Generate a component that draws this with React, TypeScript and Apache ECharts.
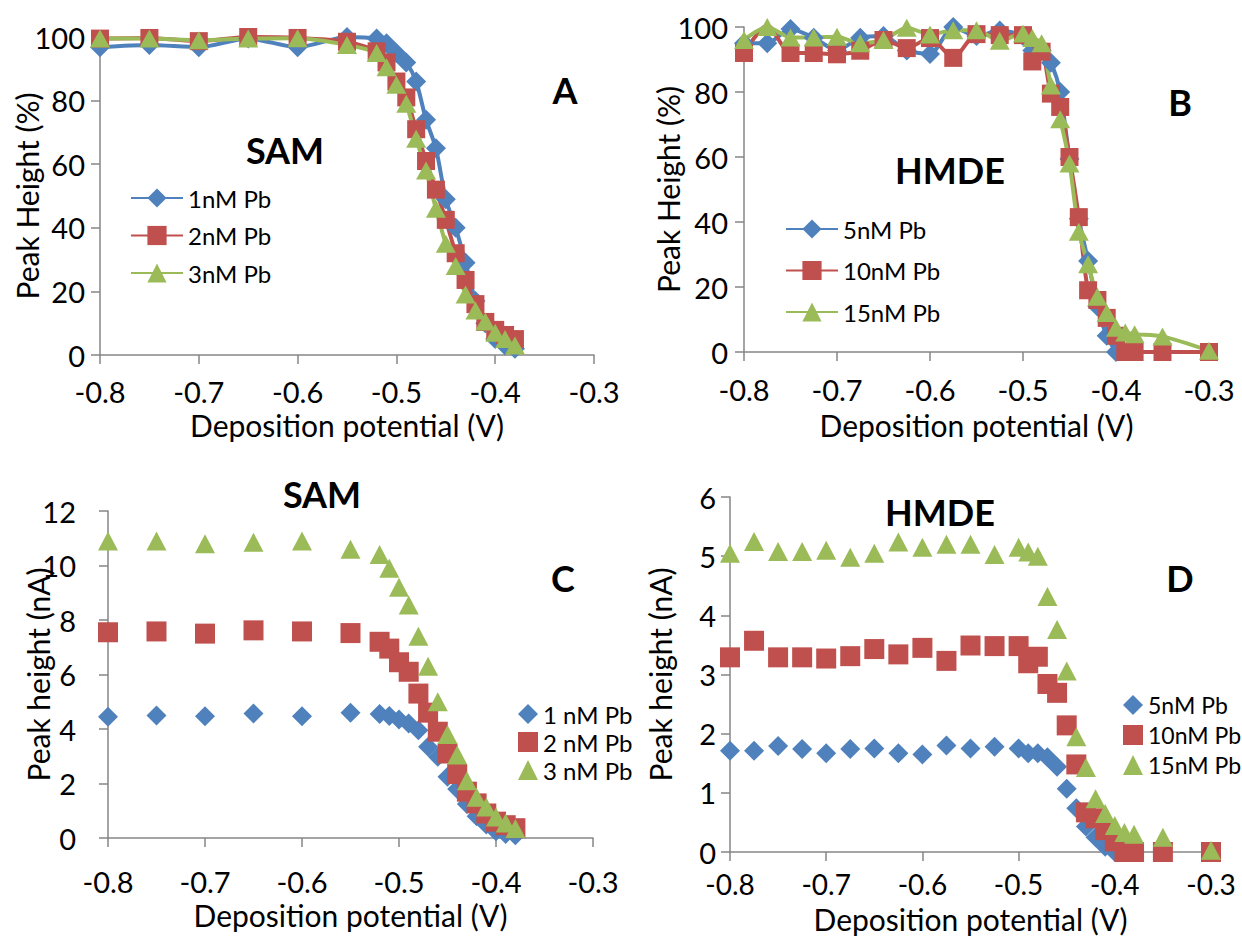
import React, { useEffect, useRef } from "react";
import * as echarts from "echarts";

// ---------- data ----------
const xSam = [-0.8, -0.75, -0.7, -0.65, -0.6, -0.55, -0.52, -0.51, -0.5, -0.49, -0.48, -0.47, -0.46, -0.45, -0.44, -0.43, -0.42, -0.41, -0.4, -0.39, -0.38];
const samPct1 = [96.8, 97.5, 96.8, 99.5, 96.8, 100, 99.5, 98, 95, 92, 86, 74, 65, 49, 40, 29, 17, 10, 5, 3, 2];
const samPct2 = [99.5, 99.7, 98.7, 100, 99.7, 98.5, 95.5, 92, 86, 81, 71, 61, 52, 42.5, 32, 23.6, 16, 10.4, 7.9, 6.3, 5];
const samPct3 = [99.5, 99.5, 99, 99.5, 99.6, 97.5, 95, 90.5, 85, 79, 68, 58, 46, 35, 28, 19, 14, 10.5, 7, 5, 3];

const samNa1 = [4.45, 4.5, 4.47, 4.57, 4.47, 4.6, 4.55, 4.48, 4.35, 4.2, 3.95, 3.35, 2.98, 2.25, 1.8, 1.25, 0.8, 0.5, 0.25, 0.15, 0.1];
const samNa2 = [7.55, 7.58, 7.5, 7.62, 7.58, 7.52, 7.2, 6.95, 6.45, 6.1, 5.3, 4.6, 3.9, 3.1, 2.35, 1.7, 1.27, 0.9, 0.6, 0.47, 0.36];
const samNa3 = [10.9, 10.9, 10.8, 10.85, 10.9, 10.6, 10.4, 9.9, 9.2, 8.55, 7.4, 6.3, 5.0, 3.8, 3.05, 2.1, 1.5, 1.14, 0.77, 0.55, 0.35];

const xHmde = [-0.8, -0.775, -0.75, -0.725, -0.7, -0.675, -0.65, -0.625, -0.6, -0.575, -0.55, -0.525, -0.5, -0.49, -0.48, -0.47, -0.46, -0.45, -0.44, -0.43, -0.42, -0.41, -0.4, -0.39, -0.38, -0.35, -0.3];
const hmdePct5 = [95, 95, 99.4, 96.7, 92.8, 96.7, 97.2, 92.8, 91.7, 100, 97.2, 98.9, 97.2, 92.8, 92.8, 89, 80, 59.4, 41, 28, 14, 5, 0];
const hmdePct10 = [92, 100.5, 92, 92, 91.6, 92.7, 96, 93.5, 96.6, 90.5, 97.8, 97.5, 97.5, 89.4, 92.4, 79.5, 75.4, 60, 41.5, 19, 16, 10.5, 5, 0, 0, 0, 0];
const hmdePct15 = [96, 100, 96.8, 96.8, 97, 95, 96, 99.8, 97.7, 99, 99, 95.8, 98, 96.6, 95, 82, 71.6, 58, 37, 27, 17, 12, 7.5, 6, 5.5, 4.8, 0.4];

const hmdeNa5 = [1.71, 1.71, 1.79, 1.74, 1.67, 1.74, 1.75, 1.67, 1.65, 1.8, 1.75, 1.78, 1.75, 1.67, 1.67, 1.6, 1.44, 1.07, 0.74, 0.43, 0.25, 0.09, 0];
const hmdeNa10 = [3.29, 3.57, 3.29, 3.29, 3.27, 3.31, 3.43, 3.34, 3.45, 3.23, 3.49, 3.48, 3.48, 3.19, 3.3, 2.84, 2.69, 2.14, 1.48, 0.67, 0.57, 0.37, 0.18, 0, 0, 0, 0];
const hmdeNa15 = [5.05, 5.25, 5.08, 5.08, 5.1, 4.98, 5.05, 5.24, 5.15, 5.2, 5.2, 5.03, 5.15, 5.07, 5.0, 4.32, 3.76, 3.06, 1.95, 1.43, 0.9, 0.65, 0.45, 0.33, 0.3, 0.25, 0.03];

const namesA = ["1nM Pb", "2nM Pb", "3nM Pb"];
const namesB = ["5nM Pb", "10nM Pb", "15nM Pb"];
const namesC = ["1 nM Pb", "2 nM Pb", "3 nM Pb"];
const namesD = ["5nM Pb", "10nM Pb", "15nM Pb"];

// ---------- style ----------
const BLUE = "#4F81BD";
const RED = "#C0504D";
const GREEN = "#9BBB59";
const FONT = "Lato";
const AXIS = "#868686";

const pairs = (xs: number[], ys: number[]) => ys.map((y, i) => [xs[i], y]);

const xAxisOf = (grid: number, margin: number, nameGap: number, labelSize = 29) => ({
  type: "value",
  gridIndex: grid,
  min: -0.8,
  max: -0.3,
  interval: 0.1,
  axisLine: { show: true, onZero: false, lineStyle: { color: AXIS, width: 1.5 } },
  axisTick: { show: true, length: 9, lineStyle: { color: AXIS, width: 1.5 } },
  splitLine: { show: false },
  axisLabel: {
    formatter: (v: number) => v.toFixed(1),
    fontSize: labelSize,
    color: "#000",
    fontFamily: FONT,
    margin,
  },
  name: "Deposition potential (V)",
  nameLocation: "middle",
  nameGap,
  nameMoveOverlap: false,
  nameTextStyle: { fontSize: 30, color: "#000", fontFamily: FONT },
});

const yAxisOf = (grid: number, max: number, interval: number, name: string, margin: number, nameGap: number) => ({
  type: "value",
  gridIndex: grid,
  min: 0,
  max,
  interval,
  axisLine: { show: true, onZero: false, lineStyle: { color: AXIS, width: 1.5 } },
  axisTick: { show: true, length: 9, lineStyle: { color: AXIS, width: 1.5 } },
  splitLine: { show: false },
  axisLabel: { fontSize: 29, color: "#000", fontFamily: FONT, margin },
  name,
  nameLocation: "middle",
  nameGap,
  nameMoveOverlap: false,
  nameRotate: 90,
  nameTextStyle: { fontSize: 30, color: "#000", fontFamily: FONT },
});

const lineSeries = (name: string, grid: number, xs: number[], ys: number[], color: string, symbol: string, size: any) => ({
  type: "line",
  name,
  xAxisIndex: grid,
  yAxisIndex: grid,
  data: pairs(xs, ys),
  smooth: 0.25,
  symbol,
  symbolSize: size,
  showAllSymbol: true,
  lineStyle: { color, width: 4 },
  itemStyle: { color, borderWidth: 0 },
  emphasis: { disabled: true },
});

const scatterSeries = (name: string, grid: number, xs: number[], ys: number[], color: string, symbol: string, size: any) => ({
  type: "scatter",
  name,
  xAxisIndex: grid,
  yAxisIndex: grid,
  data: pairs(xs, ys),
  symbol,
  symbolSize: size,
  itemStyle: { color, opacity: 1 },
  emphasis: { disabled: true },
});

const label = (text: string, x: number, y: number, size: number) => ({
  type: "text",
  x,
  y,
  style: {
    text,
    font: `bold ${size}px ${FONT}`,
    fontSize: size,
    fontWeight: "bold",
    fontFamily: FONT,
    fill: "#000",
    align: "center",
    verticalAlign: "middle",
    textAlign: "center",
    textVerticalAlign: "middle",
  },
});

export default function App() {
  const ref = useRef<HTMLDivElement>(null);

  useEffect(() => {
    if (!ref.current) return;
    const chart = echarts.init(ref.current, null, { renderer: "svg" });
    const DIA = [20, 20];
    const SQ = 18;
    const TRI = [20, 18];

    chart.setOption({
      animation: false,
      backgroundColor: "#fff",
      textStyle: { fontFamily: FONT },
      grid: [
        { left: 100, top: 37, width: 494, height: 318 },
        { left: 744, top: 27, width: 465, height: 325 },
        { left: 108, top: 511, width: 485, height: 327 },
        { left: 730, top: 497, width: 481, height: 355 },
      ],
      xAxis: [xAxisOf(0, 22, 55), xAxisOf(1, 23, 58), xAxisOf(2, 29, 62), xAxisOf(3, 18, 52, 28)],
      yAxis: [
        yAxisOf(0, 100, 20, "Peak Height (%)", 15, 58),
        yAxisOf(1, 100, 20, "Peak Height (%)", 16, 61),
        yAxisOf(2, 12, 2, "Peak height (nA)", 32, 55),
        yAxisOf(3, 6, 1, "Peak height (nA)", 14, 55),
      ],
      legend: [
        {
          orient: "vertical",
          left: 125,
          top: 181,
          itemWidth: 52,
          itemHeight: 24,
          itemGap: 13.5,
          data: namesA,
          selectedMode: false,
          textStyle: { fontSize: 24, color: "#000", fontFamily: FONT, lineHeight: 24 },
        },
        {
          orient: "vertical",
          left: 780,
          top: 212,
          itemWidth: 52,
          itemHeight: 24,
          itemGap: 17.5,
          data: namesB,
          selectedMode: false,
          textStyle: { fontSize: 24, color: "#000", fontFamily: FONT, lineHeight: 24 },
        },
        {
          orient: "vertical",
          left: 513,
          top: 697,
          itemWidth: 20,
          itemHeight: 20,
          itemGap: 4,
          data: [
            { name: namesC[0], icon: "diamond" },
            { name: namesC[1], icon: "rect" },
            { name: namesC[2], icon: "triangle" },
          ],
          selectedMode: false,
          textStyle: { fontSize: 24, color: "#000", fontFamily: FONT, lineHeight: 24 },
        },
        {
          orient: "vertical",
          left: 1118,
          top: 688,
          itemWidth: 20,
          itemHeight: 20,
          itemGap: 6,
          data: [
            { name: "D " + namesD[0], icon: "diamond" },
            { name: "D " + namesD[1], icon: "rect" },
            { name: "D " + namesD[2], icon: "triangle" },
          ],
          formatter: (n: string) => n.replace(/^D /, ""),
          selectedMode: false,
          textStyle: { fontSize: 23, color: "#000", fontFamily: FONT, lineHeight: 24 },
        },
      ],
      series: [
        lineSeries(namesA[0], 0, xSam, samPct1, BLUE, "diamond", DIA),
        lineSeries(namesA[1], 0, xSam, samPct2, RED, "rect", SQ),
        lineSeries(namesA[2], 0, xSam, samPct3, GREEN, "triangle", TRI),
        lineSeries(namesB[0], 1, xHmde, hmdePct5, BLUE, "diamond", DIA),
        lineSeries(namesB[1], 1, xHmde, hmdePct10, RED, "rect", SQ),
        lineSeries(namesB[2], 1, xHmde, hmdePct15, GREEN, "triangle", TRI),
        scatterSeries(namesC[0], 2, xSam, samNa1, BLUE, "diamond", DIA),
        scatterSeries(namesC[1], 2, xSam, samNa2, RED, "rect", 20),
        scatterSeries(namesC[2], 2, xSam, samNa3, GREEN, "triangle", [20, 19]),
        scatterSeries("D " + namesD[0], 3, xHmde, hmdeNa5, BLUE, "diamond", DIA),
        scatterSeries("D " + namesD[1], 3, xHmde, hmdeNa10, RED, "rect", 20),
        scatterSeries("D " + namesD[2], 3, xHmde, hmdeNa15, GREEN, "triangle", [20, 19]),
      ],
      graphic: [
        label("SAM", 285, 150, 36),
        label("A", 565, 90, 36),
        label("HMDE", 950, 170, 36),
        label("B", 1180, 102, 36),
        label("SAM", 322, 494, 36),
        label("C", 563, 578, 36),
        label("HMDE", 940, 512, 36),
        label("D", 1180, 578, 36),
      ],
    });
    return () => chart.dispose();
  }, []);

  return (
    <div
      ref={ref}
      style={{ position: "absolute", left: 0, top: 0, width: 1242, height: 939, background: "#fff" }}
    />
  );
}
